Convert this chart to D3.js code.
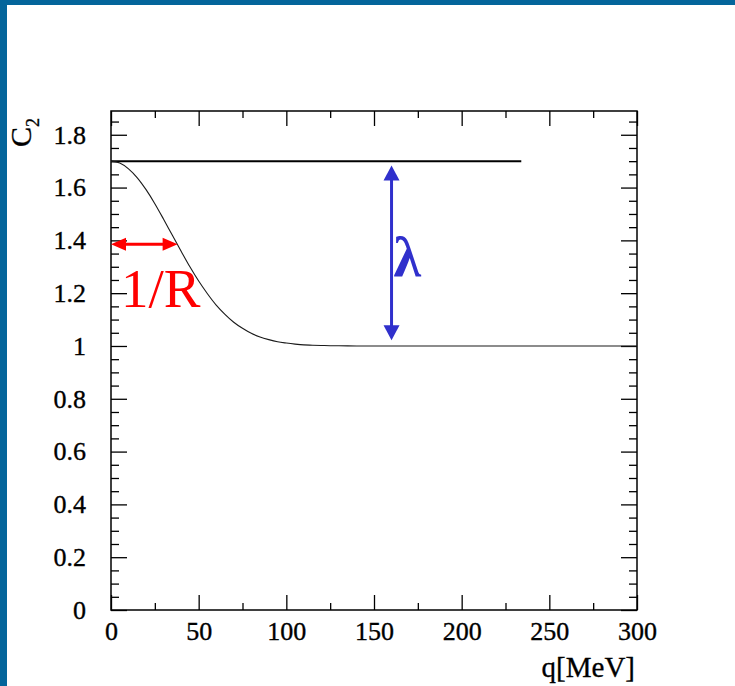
<!DOCTYPE html>
<html>
<head>
<meta charset="utf-8">
<script src="https://cdn.jsdelivr.net/npm/d3@7/dist/d3.min.js"></script>
<style>
  html, body { margin: 0; padding: 0; background: #fff; }
  svg { display: block; }
  text { font-family: "Liberation Serif", "Times New Roman", serif; }
</style>
</head>
<body>
<svg id="chart" width="735" height="686"></svg>
<script>
// Correlation function C2(q): sampled values of the falling curve
const qValues  = [0, 5, 10, 15, 20, 25, 30, 35, 40, 45, 50, 55, 60, 65, 70, 75, 80, 85, 90, 95,
                  100, 105, 110, 115, 120, 125, 130, 140, 160, 200, 250, 300];
const c2Values = [1.700, 1.693, 1.671, 1.637, 1.592, 1.539, 1.480, 1.419, 1.359, 1.300,
                  1.246, 1.198, 1.155, 1.120, 1.090, 1.067, 1.048, 1.034, 1.024, 1.016,
                  1.011, 1.007, 1.004, 1.003, 1.002, 1.001, 1.001, 1.000, 1.000, 1.000, 1.000, 1.000];

// Intercept level (flat reference line)
const interceptLevel = 1.7;
const interceptRange = [0, 234];

// Annotations
const radiusArrow = { q0: 0, q1: 38, c: 1.385, label: "1/R" };
const lambdaArrow = { q: 160, c0: 1.022, c1: 1.684, label: "λ" };

// Axis ticks
const xMajorTicks = [0, 50, 100, 150, 200, 250, 300];
const xMinorTicks = [25, 75, 125, 175, 225, 275];
const yMajorTicks = [0, 0.2, 0.4, 0.6, 0.8, 1, 1.2, 1.4, 1.6, 1.8];
const yMinorTicks = d3.range(0, 38).map(i => +(i * 0.05).toFixed(2)).filter(v => !yMajorTicks.includes(v));

const svg = d3.select("#chart");
const W = 735, H = 686;
const frame = { left: 111, right: 637, top: 111, bottom: 610 };

// Slide background and blue edges
svg.append("rect").attr("width", W).attr("height", H).attr("fill", "#fff");
svg.append("rect").attr("x", 0).attr("y", 0).attr("width", W).attr("height", 5).attr("fill", "#04659b");
svg.append("rect").attr("x", 0).attr("y", 0).attr("width", 7).attr("height", H).attr("fill", "#04659b");

const x = d3.scaleLinear().domain([0, 300]).range([frame.left, frame.right]);
const y = d3.scaleLinear().domain([0, 1.89]).range([frame.bottom, frame.top]);

const fmtY = d => (d === 0 || d === 1) ? String(d) : d.toFixed(1);

function styleAxis(g) {
  g.select(".domain").remove();
  g.selectAll(".tick line").attr("stroke", "#000").attr("stroke-width", 1.3);
  g.selectAll(".tick text").attr("fill", "#000").style("font-size", "26px")
    .attr("stroke", "#000").attr("stroke-width", 0.35)
    .style("font-family", '"Liberation Serif", "Times New Roman", serif');
}

// Bottom axis
svg.append("g").attr("transform", `translate(0,${frame.bottom})`)
  .call(d3.axisBottom(x).tickValues(xMajorTicks).tickSizeInner(-15).tickSizeOuter(0).tickPadding(12).tickFormat(d3.format("d")))
  .call(styleAxis);
svg.append("g").attr("transform", `translate(0,${frame.bottom})`)
  .call(d3.axisBottom(x).tickValues(xMinorTicks).tickSizeInner(-7).tickSizeOuter(0).tickFormat(""))
  .call(styleAxis);
// Top axis (ticks only)
svg.append("g").attr("transform", `translate(0,${frame.top})`)
  .call(d3.axisTop(x).tickValues(xMajorTicks).tickSizeInner(-15).tickSizeOuter(0).tickFormat(""))
  .call(styleAxis);
svg.append("g").attr("transform", `translate(0,${frame.top})`)
  .call(d3.axisTop(x).tickValues(xMinorTicks).tickSizeInner(-7).tickSizeOuter(0).tickFormat(""))
  .call(styleAxis);

// Left axis
svg.append("g").attr("transform", `translate(${frame.left},0)`)
  .call(d3.axisLeft(y).tickValues(yMajorTicks).tickSizeInner(-16).tickSizeOuter(0).tickPadding(25).tickFormat(fmtY))
  .call(styleAxis);
svg.append("g").attr("transform", `translate(${frame.left},0)`)
  .call(d3.axisLeft(y).tickValues(yMinorTicks).tickSizeInner(-8).tickSizeOuter(0).tickFormat(""))
  .call(styleAxis);
// Right axis (ticks only)
svg.append("g").attr("transform", `translate(${frame.right},0)`)
  .call(d3.axisRight(y).tickValues(yMajorTicks).tickSizeInner(-16).tickSizeOuter(0).tickFormat(""))
  .call(styleAxis);
svg.append("g").attr("transform", `translate(${frame.right},0)`)
  .call(d3.axisRight(y).tickValues(yMinorTicks).tickSizeInner(-8).tickSizeOuter(0).tickFormat(""))
  .call(styleAxis);

// Frame
svg.append("rect")
  .attr("x", frame.left).attr("y", frame.top)
  .attr("width", frame.right - frame.left).attr("height", frame.bottom - frame.top)
  .attr("fill", "none").attr("stroke", "#000").attr("stroke-width", 1.5);

// Flat intercept line
svg.append("line")
  .attr("x1", x(interceptRange[0])).attr("x2", x(interceptRange[1]))
  .attr("y1", y(interceptLevel)).attr("y2", y(interceptLevel))
  .attr("stroke", "#000").attr("stroke-width", 2);

// C2 curve
const pts = qValues.map((q, i) => [q, c2Values[i]]);
svg.append("path")
  .datum(pts)
  .attr("d", d3.line().x(d => x(d[0])).y(d => y(d[1])).curve(d3.curveMonotoneX))
  .attr("fill", "none").attr("stroke", "#1a1a1a").attr("stroke-width", 1.1);

// Double-headed arrows
function doubleArrow(x1, y1, x2, y2, color, width, headLen, headHalf) {
  const ang = Math.atan2(y2 - y1, x2 - x1);
  const ux = Math.cos(ang), uy = Math.sin(ang);
  const px = -uy, py = ux;
  const g = svg.append("g");
  g.append("line")
    .attr("x1", x1 + ux * headLen * 0.8).attr("y1", y1 + uy * headLen * 0.8)
    .attr("x2", x2 - ux * headLen * 0.8).attr("y2", y2 - uy * headLen * 0.8)
    .attr("stroke", color).attr("stroke-width", width);
  const head = (tx, ty, dir) => {
    const bx = tx - dir * ux * headLen, by = ty - dir * uy * headLen;
    return [[tx, ty], [bx + px * headHalf, by + py * headHalf], [bx - px * headHalf, by - py * headHalf]];
  };
  [head(x2, y2, 1), head(x1, y1, -1)].forEach(p => {
    g.append("polygon").attr("points", p.map(d => d.join(",")).join(" ")).attr("fill", color);
  });
}

doubleArrow(x(radiusArrow.q0), y(radiusArrow.c), x(radiusArrow.q1), y(radiusArrow.c), "#ff0000", 3, 15, 6.5);
doubleArrow(x(lambdaArrow.q), y(lambdaArrow.c1), x(lambdaArrow.q), y(lambdaArrow.c0), "#3030cc", 3, 15, 8);

// Annotation labels
svg.append("text")
  .attr("x", x(radiusArrow.q0) + 10).attr("y", 307)
  .attr("fill", "#ff0000").style("font-size", "55px")
  .text(radiusArrow.label);
svg.append("text")
  .attr("x", x(lambdaArrow.q) + 2).attr("y", 276)
  .attr("fill", "#3030cc").style("font-size", "56px").style("font-weight", "bold")
  .text(lambdaArrow.label);

// Axis titles
svg.append("text")
  .attr("x", 635).attr("y", 677)
  .attr("text-anchor", "end").attr("fill", "#000").style("font-size", "29px")
  .attr("stroke", "#000").attr("stroke-width", 0.3)
  .text("q[MeV]");

const yt = svg.append("text")
  .attr("transform", "translate(31,147) rotate(-90)")
  .attr("fill", "#000").style("font-size", "30px")
  .attr("stroke", "#000").attr("stroke-width", 0.3);
yt.append("tspan").text("C");
yt.append("tspan").attr("dy", 8).style("font-size", "18px").text("2");
</script>
</body>
</html>
